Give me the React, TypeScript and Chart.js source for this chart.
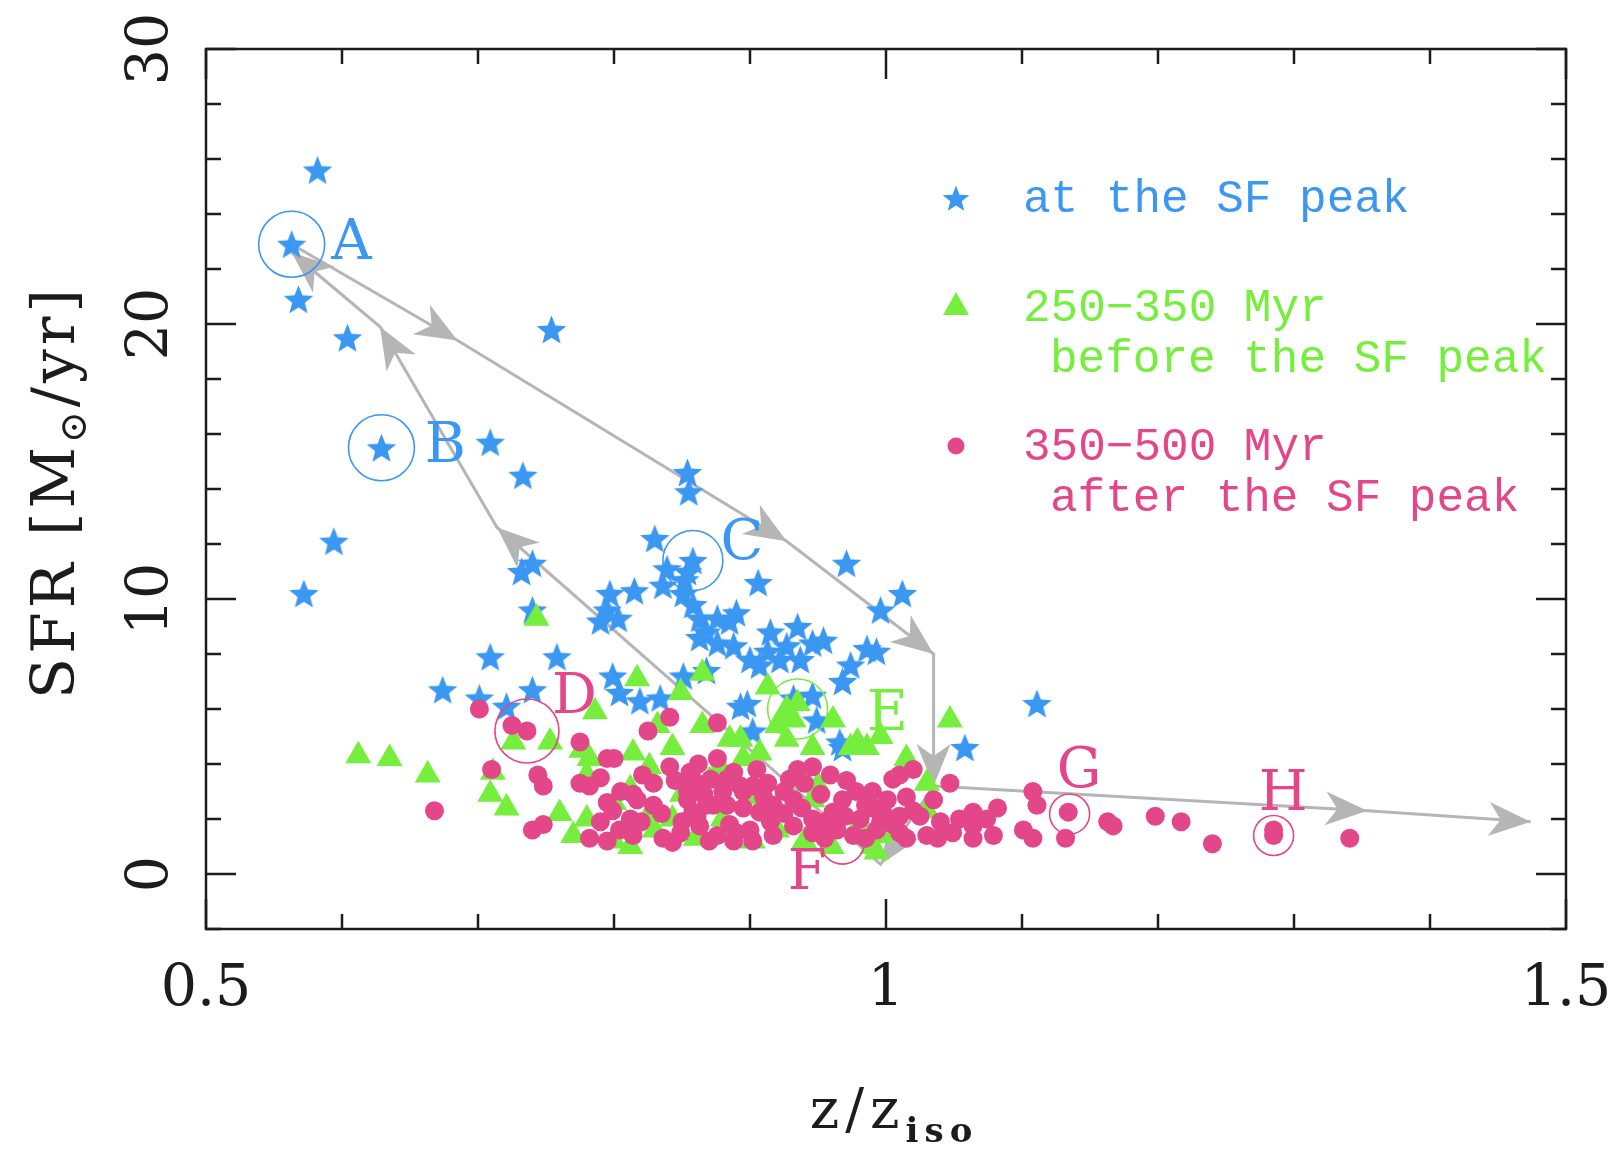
import React, { useEffect, useRef } from 'react';
import Chart from 'chart.js/auto';

type Pt = [number, number];

// z/z_iso, SFR [Msun/yr] at the SF peak (stars)
const peakPoints: Pt[] = [
  [0.582, 25.6], [0.563, 22.9], [0.568, 20.9], [0.604, 19.5], [0.754, 19.8], [0.629, 15.5],
  [0.709, 15.7], [0.733, 14.5], [0.594, 12.1], [0.572, 10.2], [0.854, 14.6], [0.855, 13.9],
  [0.830, 12.2], [0.858, 11.4], [0.906, 10.6], [0.971, 11.3], [0.732, 11.0], [0.740, 11.3],
  [0.740, 9.6], [0.797, 10.2], [0.815, 10.3], [0.839, 11.1], [0.836, 10.5], [0.854, 11.0],
  [0.790, 9.2], [0.803, 9.3], [0.795, 9.6], [0.852, 10.7], [0.851, 10.2], [0.858, 9.8],
  [0.863, 9.3], [0.868, 8.8], [0.876, 9.3], [0.885, 9.2], [0.888, 8.3], [0.863, 8.6],
  [0.876, 8.4], [0.890, 9.5], [0.915, 8.8], [0.935, 9.0], [0.946, 8.4], [0.937, 7.8],
  [0.913, 8.1], [0.927, 8.3], [0.954, 8.5], [0.922, 7.8], [0.907, 7.6], [0.900, 7.8],
  [0.986, 8.2], [0.974, 7.6], [0.968, 7.0], [0.996, 9.6], [1.012, 10.2], [0.993, 8.1],
  [0.709, 7.9], [0.758, 7.9], [0.674, 6.7], [0.701, 6.4], [0.740, 6.7], [0.721, 6.1],
  [0.799, 7.2], [0.804, 6.6], [0.819, 6.3], [0.834, 6.4], [0.851, 7.2], [0.868, 7.4],
  [0.898, 6.2], [0.946, 6.5], [0.893, 6.1], [0.932, 6.4], [0.949, 5.6], [0.902, 5.2],
  [0.968, 4.6], [0.966, 4.8], [1.111, 6.2], [1.058, 4.6],
];

// 250-350 Myr before the SF peak (triangles)
const beforePoints: Pt[] = [
  [0.612, 4.3], [0.635, 4.2], [0.663, 3.6], [0.711, 3.7], [0.709, 2.9], [0.721, 2.4],
  [0.726, 4.8], [0.753, 4.8], [0.786, 5.9], [0.776, 4.5], [0.817, 7.1], [0.849, 6.6],
  [0.865, 7.3], [0.832, 5.4], [0.865, 5.4], [0.843, 4.6], [0.885, 4.9], [0.814, 4.4],
  [0.780, 3.6], [0.812, 3.1], [0.780, 2.0], [0.812, 1.0], [0.843, 2.0], [0.743, 9.3],
  [0.913, 6.8], [0.927, 6.0], [0.961, 5.6], [0.893, 4.9], [0.932, 5.6], [0.920, 5.4],
  [0.927, 4.9], [0.974, 4.6], [0.986, 4.6], [0.996, 5.0], [1.015, 4.2], [0.946, 4.6],
  [0.907, 4.4], [0.878, 3.9], [0.895, 4.2], [0.826, 3.9], [0.782, 4.2], [0.824, 2.0],
  [0.927, 3.1], [0.946, 2.7], [0.996, 1.4], [0.902, 1.2], [0.800, 1.2], [1.047, 5.6],
  [0.979, 4.8], [1.030, 3.3], [0.990, 1.0], [0.993, 0.8], [0.800, 2.6], [0.830, 1.6],
  [0.860, 1.3], [0.880, 2.0], [0.900, 2.8], [0.920, 1.6], [0.940, 1.2], [0.960, 1.0],
  [0.980, 1.8], [0.850, 2.9], [0.870, 3.4], [0.760, 2.2], [0.770, 1.4], [0.950, 3.2],
  [0.990, 2.5], [1.010, 1.6], [1.030, 2.3], [0.935, 6.2], [0.925, 5.8],
];

// 350-500 Myr after the SF peak (dots)
const afterPoints: Pt[] = [
  [0.668, 2.3], [0.701, 6.0], [0.725, 5.4], [0.736, 5.2], [0.710, 3.8], [0.744, 3.6],
  [0.748, 3.2], [0.740, 1.6], [0.748, 1.8], [0.775, 4.8], [0.841, 5.7], [0.825, 5.2],
  [0.876, 5.5], [0.795, 4.2], [0.800, 4.2], [0.775, 3.3], [0.782, 3.2], [0.841, 3.9],
  [0.821, 3.6], [0.829, 3.3], [0.814, 2.9], [0.829, 2.5], [0.795, 2.6], [0.799, 2.3],
  [0.790, 1.9], [0.782, 1.3], [0.795, 1.2], [0.812, 2.0], [0.814, 1.4], [0.804, 1.6],
  [0.858, 3.45], [0.871, 3.45], [0.876, 4.2], [0.854, 2.7], [0.861, 2.1], [0.873, 2.5],
  [0.836, 1.3], [0.843, 1.15], [0.888, 3.7], [0.893, 3.2], [0.946, 3.9], [0.856, 3.7],
  [0.913, 3.3], [0.929, 3.45], [0.959, 3.6], [0.971, 3.4], [0.968, 2.7], [1.010, 3.6],
  [1.020, 3.8], [0.990, 3.0], [1.001, 2.7], [0.817, 2.7], [0.854, 3.0], [0.863, 3.1],
  [0.868, 2.5], [0.858, 2.25], [0.883, 2.5], [0.895, 3.0], [0.907, 2.25], [0.917, 2.5],
  [0.932, 2.7], [0.946, 2.0], [0.961, 2.25], [0.981, 2.0], [0.996, 1.9], [1.010, 2.1],
  [0.849, 1.5], [0.863, 1.75], [0.876, 1.4], [0.890, 1.5], [0.902, 1.2], [0.917, 1.4],
  [0.932, 1.75], [0.946, 1.5], [0.964, 1.6], [0.976, 1.4], [0.993, 1.6], [1.005, 1.8],
  [1.005, 3.45], [1.047, 3.3], [0.990, 2.4], [1.035, 2.7], [1.025, 2.1], [1.054, 2.0],
  [1.064, 1.75], [1.030, 1.4], [1.038, 1.3], [1.010, 1.5], [1.015, 1.3], [0.883, 3.45],
  [0.902, 3.2], [1.064, 2.25], [1.074, 2.0], [1.082, 2.4], [1.079, 1.4], [1.064, 1.3],
  [1.049, 1.5], [1.101, 1.6], [1.108, 1.3], [1.108, 3.0], [1.111, 2.5], [1.134, 2.25],
  [1.132, 1.3], [1.163, 1.9], [1.167, 1.75], [1.198, 2.1], [1.217, 1.9], [1.240, 1.1],
  [1.285, 1.4], [1.285, 1.6], [1.341, 1.3],
  [0.805, 3.0], [0.820, 1.9], [0.835, 2.2], [0.845, 3.4], [0.850, 1.9], [0.866, 2.9],
  [0.880, 3.0], [0.885, 1.8], [0.895, 2.4], [0.900, 1.6], [0.910, 2.8], [0.915, 1.9],
  [0.925, 2.2], [0.925, 3.0], [0.938, 2.4], [0.940, 3.3], [0.952, 2.9], [0.955, 1.3],
  [0.970, 2.1], [0.978, 3.0], [0.985, 2.5], [0.998, 2.2], [1.015, 2.8], [1.020, 2.3],
  [1.040, 1.9], [0.790, 3.5], [0.870, 1.2], [0.888, 1.2], [0.955, 1.9], [0.985, 1.3],
  [0.862, 4.0], [0.905, 3.8], [0.935, 3.8],
];

// gray evolutionary tracks, arrow at every vertex after the first
const trackLoop: Pt[] = [
  [0.563, 22.9], [0.685, 19.4], [0.927, 12.1], [1.035, 8.0], [1.035, 3.2],
  [0.996, 0.35], [0.714, 12.6], [0.628, 19.9], [0.563, 22.6],
];
const trackOut: Pt[] = [[1.035, 3.2], [1.354, 2.3], [1.474, 1.9]];

// labelled snapshots
const markNames = ['A', 'B', 'C', 'D', 'E', 'F', 'G', 'H'];
const markCenters: Pt[] = [
  [0.563, 22.9], [0.629, 15.5], [0.858, 11.4], [0.736, 5.2],
  [0.935, 6.0], [0.968, 1.16], [1.135, 2.18], [1.285, 1.4],
];
const markLabelAt: Pt[] = [
  [0.607, 23.1], [0.676, 15.7], [0.894, 12.2], [0.771, 6.6],
  [1.001, 5.96], [0.942, 0.18], [1.142, 3.9], [1.292, 3.05],
];
const markSeries = ['peak', 'peak', 'peak', 'after', 'before', 'after', 'after', 'after'];

const xTickValues = [0.5, 1, 1.5];
const xTickLabels = ['0.5', '1', '1.5'];
const yTickValues = [0, 10, 20, 30];
const yTickLabels = ['0', '10', '20', '30'];

const legendLabels = ['at the SF peak', '250\u2212350 Myr', 'before the SF peak', '350\u2212500 Myr', 'after the SF peak'];

const BLUE = '#3a97f2';
const GREEN = '#76ee3d';
const PINK = '#e4468a';
const GRAY = '#b5b5b5';
const INK = '#1c1c1c';
const SERIF = '"DejaVu Serif", serif';
const MONO = '"Liberation Mono", monospace';

const seriesColor: Record<string, string> = { peak: BLUE, before: GREEN, after: PINK };
const markRadius = [33, 33, 30, 32, 30, 22, 20, 20];

function starImage(size: number, color: string): HTMLCanvasElement {
  const c = document.createElement('canvas');
  c.width = size;
  c.height = size;
  const g = c.getContext('2d')!;
  const R = size / 2;
  const r = R * 0.43;
  g.fillStyle = color;
  g.beginPath();
  for (let i = 0; i < 10; i++) {
    const a = -Math.PI / 2 + (i * Math.PI) / 5;
    const rr = i % 2 === 0 ? R : r;
    g.lineTo(R + rr * Math.cos(a), R + 1.5 + rr * Math.sin(a));
  }
  g.closePath();
  g.fill();
  return c;
}

function arrowHead(ctx: CanvasRenderingContext2D, from: number[], to: number[]) {
  const ang = Math.atan2(to[1] - from[1], to[0] - from[0]);
  ctx.save();
  ctx.translate(to[0], to[1]);
  ctx.rotate(ang);
  ctx.beginPath();
  ctx.moveTo(0, 0);
  ctx.lineTo(-42, 17);
  ctx.lineTo(-30, 0);
  ctx.lineTo(-42, -17);
  ctx.closePath();
  ctx.fill();
  ctx.restore();
}

type Piece = { t: string; font: string; dy: number };

function drawPieces(ctx: CanvasRenderingContext2D, pieces: Piece[], cx: number, base: number, spacing: number) {
  (ctx as any).letterSpacing = `${spacing}px`;
  const widths = pieces.map((p) => {
    ctx.font = p.font;
    return ctx.measureText(p.t).width;
  });
  let x = cx - widths.reduce((a, b) => a + b, 0) / 2;
  ctx.textAlign = 'left';
  ctx.textBaseline = 'alphabetic';
  pieces.forEach((p, i) => {
    ctx.font = p.font;
    ctx.fillText(p.t, x, base + p.dy);
    x += widths[i];
  });
  (ctx as any).letterSpacing = '0px';
}

const App: React.FC = () => {
  const chartRef = useRef<HTMLCanvasElement>(null);
  const chartInstance = useRef<Chart | null>(null);

  useEffect(() => {
    if (!chartRef.current) return;
    const star = starImage(31, BLUE);
    const legendStar = starImage(28, BLUE);

    const annotate = {
      id: 'annotate',
      beforeDatasetsDraw(chart: Chart) {
        const { ctx } = chart;
        const xs = chart.scales.x;
        const ys = chart.scales.y;
        ctx.save();
        ctx.strokeStyle = GRAY;
        ctx.fillStyle = GRAY;
        ctx.lineWidth = 3;
        [trackLoop, trackOut].forEach((track) => {
          const pts = track.map(([x, y]) => [xs.getPixelForValue(x), ys.getPixelForValue(y)]);
          ctx.beginPath();
          pts.forEach(([px, py], i) => (i ? ctx.lineTo(px, py) : ctx.moveTo(px, py)));
          ctx.stroke();
          for (let i = 1; i < pts.length; i++) arrowHead(ctx, pts[i - 1], pts[i]);
        });
        ctx.restore();
      },
      afterDatasetsDraw(chart: Chart) {
        const { ctx, chartArea } = chart;
        const { left, right, top, bottom } = chartArea;
        const xs = chart.scales.x;
        const ys = chart.scales.y;
        ctx.save();

        // circled snapshots and their letters
        markNames.forEach((name, i) => {
          const color = seriesColor[markSeries[i]];
          ctx.strokeStyle = color;
          ctx.lineWidth = 1.6;
          ctx.beginPath();
          ctx.arc(xs.getPixelForValue(markCenters[i][0]), ys.getPixelForValue(markCenters[i][1]), markRadius[i], 0, Math.PI * 2);
          ctx.stroke();
          ctx.fillStyle = color;
          ctx.font = `56px ${SERIF}`;
          ctx.textAlign = 'center';
          ctx.textBaseline = 'alphabetic';
          ctx.fillText(name, xs.getPixelForValue(markLabelAt[i][0]), ys.getPixelForValue(markLabelAt[i][1]) + 20);
        });

        // legend
        const mx = left + 750;
        const tx = left + 817;
        const rows = [149, 258, 309, 397, 448];
        ctx.drawImage(legendStar, mx - 14, top + rows[0] - 14);
        ctx.fillStyle = GREEN;
        ctx.beginPath();
        ctx.moveTo(mx, top + rows[1] - 15);
        ctx.lineTo(mx + 13, top + rows[1] + 8);
        ctx.lineTo(mx - 13, top + rows[1] + 8);
        ctx.closePath();
        ctx.fill();
        ctx.fillStyle = PINK;
        ctx.beginPath();
        ctx.arc(mx, top + rows[3], 8.5, 0, Math.PI * 2);
        ctx.fill();
        ctx.font = `46px ${MONO}`;
        ctx.textAlign = 'left';
        ctx.textBaseline = 'middle';
        const legendColors = [BLUE, GREEN, GREEN, PINK, PINK];
        const legendIndent = [0, 0, 27, 0, 27];
        legendLabels.forEach((t, i) => {
          ctx.fillStyle = legendColors[i];
          ctx.fillText(t, tx + legendIndent[i], top + rows[i] + 2);
        });

        // frame and inward ticks on all sides
        ctx.strokeStyle = INK;
        ctx.lineWidth = 2.5;
        ctx.strokeRect(left, top, right - left, bottom - top);
        ctx.beginPath();
        for (let i = 5; i <= 15; i++) {
          const px = xs.getPixelForValue(i / 10);
          const len = i % 5 === 0 ? 30 : 15;
          ctx.moveTo(px, bottom);
          ctx.lineTo(px, bottom - len);
          ctx.moveTo(px, top);
          ctx.lineTo(px, top + len);
        }
        for (let v = -2; v <= 30; v += 2) {
          const py = ys.getPixelForValue(v);
          const len = v % 10 === 0 ? 30 : 15;
          ctx.moveTo(left, py);
          ctx.lineTo(left + len, py);
          ctx.moveTo(right, py);
          ctx.lineTo(right - len, py);
        }
        ctx.stroke();

        // tick labels
        ctx.fillStyle = INK;
        ctx.font = `57px ${SERIF}`;
        ctx.textAlign = 'center';
        ctx.textBaseline = 'alphabetic';
        xTickValues.forEach((v, i) => {
          ctx.fillText(xTickLabels[i], xs.getPixelForValue(v), bottom + 76);
        });
        yTickValues.forEach((v, i) => {
          ctx.save();
          ctx.translate(left - 60, ys.getPixelForValue(v));
          ctx.rotate(-Math.PI / 2);
          ctx.fillText(yTickLabels[i], 0, 21);
          ctx.restore();
        });

        // axis titles
        drawPieces(
          ctx,
          [
            { t: 'z/z', font: `56px ${SERIF}`, dy: 0 },
            { t: 'iso', font: `bold 34px ${SERIF}`, dy: 14 },
          ],
          (left + right) / 2 + 8,
          bottom + 199,
          6,
        );
        ctx.save();
        ctx.translate(left - 154, (top + bottom) / 2 + 3);
        ctx.rotate(-Math.PI / 2);
        drawPieces(
          ctx,
          [
            { t: 'SFR [M', font: `60px ${SERIF}`, dy: 0 },
            { t: '\u2299', font: `38px ${SERIF}`, dy: 12 },
            { t: '/yr]', font: `60px ${SERIF}`, dy: 0 },
          ],
          0,
          22,
          4,
        );
        ctx.restore();

        ctx.restore();
      },
    };

    if (chartInstance.current) chartInstance.current.destroy();
    chartInstance.current = new Chart(chartRef.current, {
      type: 'scatter',
      data: {
        datasets: [
          {
            label: '350-500 Myr after the SF peak',
            data: afterPoints.map(([x, y]) => ({ x, y })),
            pointStyle: 'circle',
            pointRadius: 9.5,
            backgroundColor: PINK,
            borderWidth: 0,
            order: 0,
          },
          {
            label: '250-350 Myr before the SF peak',
            data: beforePoints.map(([x, y]) => ({ x, y })),
            pointStyle: 'triangle',
            pointRadius: 15,
            backgroundColor: GREEN,
            borderWidth: 0,
            order: 1,
          },
          {
            label: 'at the SF peak',
            data: peakPoints.map(([x, y]) => ({ x, y })),
            pointStyle: star,
            pointRadius: 15,
            backgroundColor: BLUE,
            borderWidth: 0,
            order: 2,
          },
        ],
      },
      options: {
        animation: false,
        responsive: true,
        maintainAspectRatio: false,
        events: [],
        layout: { padding: { left: 198, top: 41, right: 41, bottom: 219 } },
        scales: {
          x: { type: 'linear', min: 0.5, max: 1.5, display: false },
          y: { type: 'linear', min: -2, max: 30, display: false },
        },
        plugins: { legend: { display: false }, tooltip: { enabled: false } },
      },
      plugins: [annotate],
    });

    return () => {
      if (chartInstance.current) {
        chartInstance.current.destroy();
        chartInstance.current = null;
      }
    };
  }, []);

  return (
    <div style={{ width: 1599, height: 1140, position: 'relative', background: '#fff' }}>
      <canvas ref={chartRef} />
    </div>
  );
};

export default App;
